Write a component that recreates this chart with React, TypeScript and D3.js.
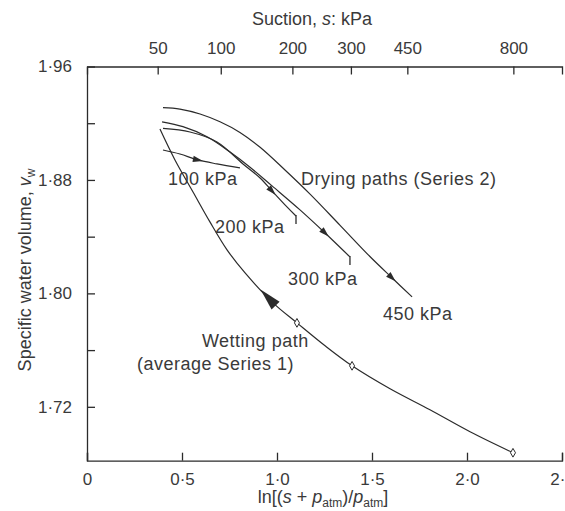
import React, { useEffect, useRef } from 'react';
import * as d3 from 'd3';

// axis ticks
const bottomTicks = [0, 0.5, 1.0, 1.5, 2.0, 2.5];
const leftTicks = [1.96, 1.92, 1.88, 1.84, 1.8, 1.76, 1.72];
const leftLabelled = [1.96, 1.88, 1.8, 1.72];
// top axis: suction (kPa) and where each tick sits on the ln scale
const suctionLabels = [50, 100, 200, 300, 450, 800];
const suctionPos = [0.372, 0.704, 1.081, 1.389, 1.686, 2.244];

// drying paths (Series 2)
const dry100X = [0.4, 0.489, 0.584, 0.684, 0.805];
const dry100Y = [1.9011, 1.8983, 1.8941, 1.8913, 1.8885];
const dry200X = [0.4, 0.542, 0.684, 0.821, 0.911, 0.974, 1.042, 1.1];
const dry200Y = [1.9163, 1.9138, 1.9068, 1.8913, 1.8814, 1.8722, 1.8624, 1.8546];
const dry300X = [0.395, 0.505, 0.632, 0.753, 0.858, 0.974, 1.121, 1.253, 1.384];
const dry300Y = [1.921, 1.9176, 1.9105, 1.8997, 1.889, 1.8758, 1.8589, 1.8426, 1.8257];
const dry450X = [0.4, 0.489, 0.595, 0.7, 0.805, 0.911, 1.042, 1.174, 1.332, 1.489, 1.605, 1.711];
const dry450Y = [1.931, 1.93, 1.9265, 1.921, 1.9135, 1.903, 1.887, 1.87, 1.848, 1.826, 1.811, 1.7975];

// wetting path (average Series 1)
const wetX = [0.384, 0.463, 0.558, 0.647, 0.737, 0.832, 0.979, 1.105, 1.253, 1.395, 1.595, 1.805, 2.016, 2.242];
const wetY = [1.9159, 1.8941, 1.8715, 1.8504, 1.8307, 1.8144, 1.7933, 1.7792, 1.763, 1.7489, 1.7327, 1.7179, 1.7024, 1.6876];
const wetMarkX = [1.105, 1.395, 2.242];
const wetMarkY = [1.7792, 1.7489, 1.6876];

const FONT = '"Liberation Sans", Arial, Helvetica, sans-serif';
const INK = '#2b2b2b';
const TEXT = '#3a3a3a';

const fmt = (d: number, p: number) => (d === 0 ? '0' : d3.format(`.${p}f`)(d).replace('.', '\u00b7'));

export default function App() {
  const gRef = useRef<SVGGElement>(null);

  useEffect(() => {
    const g = d3.select(gRef.current);
    g.selectAll('*').remove();

    const x = d3.scaleLinear().domain([0, 2.5]).range([87, 562]);
    const y = d3.scaleLinear().domain([1.682, 1.96]).range([460.7, 66.5]);

    const styleAxis = (sel: any) => {
      sel.attr('font-size', 17).attr('font-family', FONT);
      sel.selectAll('path, line').attr('stroke', INK).attr('stroke-width', 1.3);
      sel.selectAll('text').attr('fill', TEXT);
    };

    g.append('g')
      .attr('transform', `translate(0,${y.range()[0]})`)
      .call(d3.axisBottom(x).tickValues(bottomTicks).tickSizeInner(-8).tickSizeOuter(-8)
        .tickPadding(12).tickFormat((d) => fmt(+d, 1)))
      .call(styleAxis);

    g.append('g')
      .attr('transform', `translate(0,${y.range()[1]})`)
      .call(d3.axisTop(x).tickValues(suctionPos).tickSizeInner(-8).tickSizeOuter(-8)
        .tickPadding(13).tickFormat((d, i) => String(suctionLabels[i])))
      .call(styleAxis);

    g.append('g')
      .attr('transform', `translate(${x.range()[0]},0)`)
      .call(d3.axisLeft(y).tickValues(leftTicks).tickSizeInner(-8).tickSizeOuter(0)
        .tickPadding(15).tickFormat((d) => (leftLabelled.includes(+d) ? fmt(+d, 2) : '')))
      .call(styleAxis);

    const line = (X: number[], Y: number[]) =>
      d3.line<number>().x((i) => x(X[i])).y((i) => y(Y[i])).curve(d3.curveCatmullRom.alpha(0.5))(d3.range(X.length));

    const series = [
      [dry100X, dry100Y],
      [dry200X, dry200Y],
      [dry300X, dry300Y],
      [dry450X, dry450Y],
      [wetX, wetY],
    ];
    series.forEach(([X, Y]) => {
      g.append('path').attr('d', line(X, Y)).attr('fill', 'none')
        .attr('stroke', INK).attr('stroke-width', 1.2);
    });

    // little end ticks on the 200 and 300 kPa paths
    [[dry200X, dry200Y], [dry300X, dry300Y]].forEach(([X, Y]) => {
      const ex = x(X[X.length - 1]);
      const ey = y(Y[Y.length - 1]);
      g.append('line').attr('x1', ex).attr('x2', ex).attr('y1', ey - 1).attr('y2', ey + 8)
        .attr('stroke', INK).attr('stroke-width', 1.3);
    });

    const arrow = (X: number[], Y: number[], at: number, len: number, half: number, back: boolean) => {
      let k = d3.bisectRight(X, at) - 1;
      k = Math.max(0, Math.min(k, X.length - 2));
      const x0 = x(X[k]), y0 = y(Y[k]), x1 = x(X[k + 1]), y1 = y(Y[k + 1]);
      const t = (x(at) - x0) / (x1 - x0);
      const cx = x0 + t * (x1 - x0);
      const cy = y0 + t * (y1 - y0);
      let ux = x1 - x0, uy = y1 - y0;
      const n = Math.hypot(ux, uy);
      ux /= n; uy /= n;
      if (back) { ux = -ux; uy = -uy; }
      const tx = cx + ux * len / 2, ty = cy + uy * len / 2;
      const bx = cx - ux * len / 2, by = cy - uy * len / 2;
      const nx = -uy, ny = ux;
      g.append('path')
        .attr('d', `M${tx},${ty}L${bx + nx * half},${by + ny * half}L${bx - nx * half},${by - ny * half}Z`)
        .attr('fill', INK);
    };
    arrow(dry100X, dry100Y, 0.584, 10, 3.2, false);
    arrow(dry200X, dry200Y, 0.974, 10, 3.2, false);
    arrow(dry300X, dry300Y, 1.253, 10, 3.2, false);
    arrow(dry450X, dry450Y, 1.605, 10, 3.2, false);
    arrow(wetX, wetY, 0.953, 22, 5.5, true);

    g.selectAll('.mark').data(wetMarkX).enter().append('path')
      .attr('class', 'mark')
      .attr('transform', (d, i) => `translate(${x(d)},${y(wetMarkY[i])})`)
      .attr('d', d3.symbol(d3.symbolDiamond, 22)())
      .attr('fill', '#fff').attr('stroke', INK).attr('stroke-width', 1);

    const notes: [string, number, number][] = [
      ['100 kPa', 0.426, 1.8765],
      ['200 kPa', 0.674, 1.8426],
      ['Drying paths (Series 2)', 1.126, 1.8765],
      ['300 kPa', 1.058, 1.806],
      ['450 kPa', 1.558, 1.7813],
      ['Wetting path', 0.605, 1.7623],
      ['(average Series 1)', 0.263, 1.7461],
    ];
    g.selectAll('.note').data(notes).enter().append('text')
      .attr('class', 'note')
      .attr('x', (d) => x(d[1])).attr('y', (d) => y(d[2]))
      .attr('font-family', FONT).attr('font-size', 18).attr('letter-spacing', 0.5)
      .attr('fill', TEXT)
      .text((d) => d[0]);
  }, []);

  return (
    <svg width={565} height={511} style={{ position: 'absolute', left: 0, top: 0, background: '#fff' }}>
      <g ref={gRef} />
      <g fontFamily={FONT} fontSize={18} fill={TEXT}>
        <text x={312} y={25} textAnchor="middle">
          Suction, <tspan fontStyle="italic">s</tspan>: kPa
        </text>
        <text transform="translate(31,270) rotate(-90)" textAnchor="middle">
          Specific water volume, <tspan fontStyle="italic">v</tspan>
          <tspan fontSize={12} dy={4}>w</tspan>
        </text>
        <text x={323} y={503} textAnchor="middle">
          ln[(<tspan fontStyle="italic">s</tspan> + <tspan fontStyle="italic">p</tspan>
          <tspan fontSize={12} dy={4}>atm</tspan>
          <tspan dy={-4}>)/</tspan>
          <tspan fontStyle="italic">p</tspan>
          <tspan fontSize={12} dy={4}>atm</tspan>
          <tspan dy={-4}>]</tspan>
        </text>
      </g>
    </svg>
  );
}
